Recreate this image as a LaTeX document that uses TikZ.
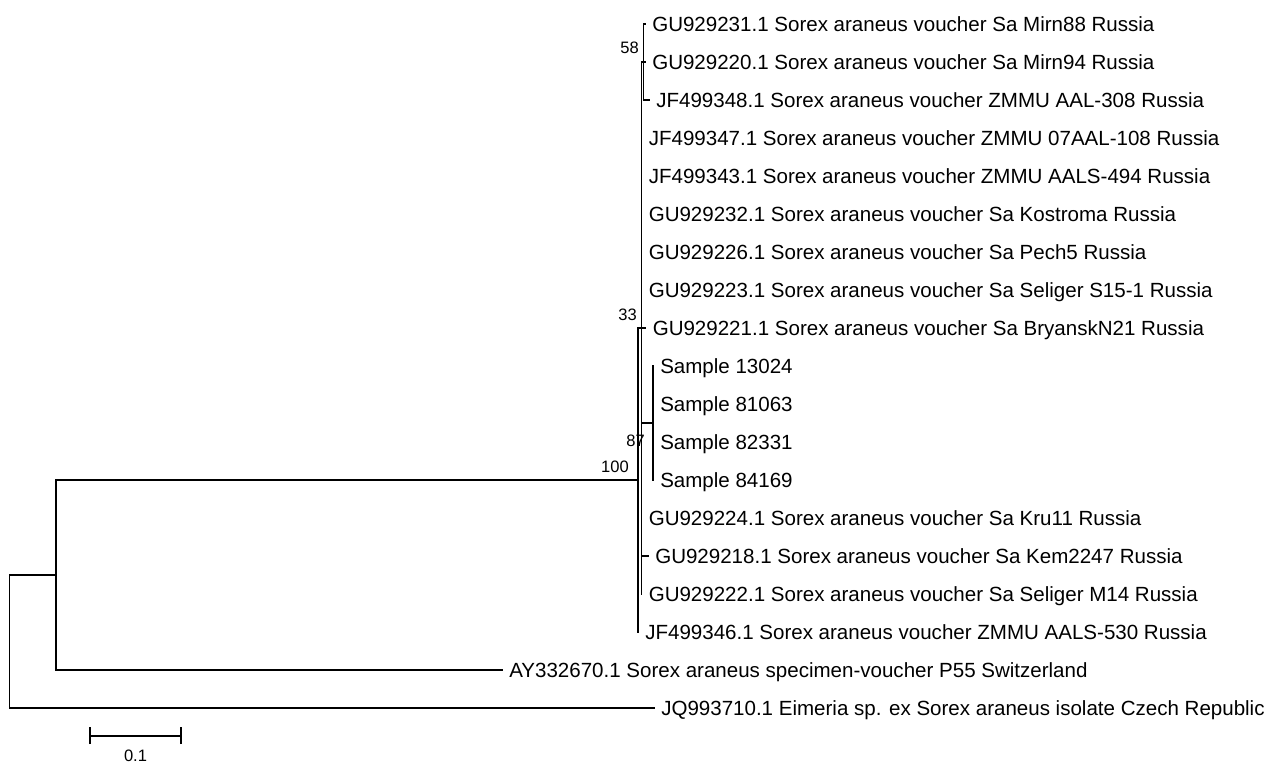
\documentclass[tikz,border=0pt]{standalone}
\usepackage{fontspec}
\setmainfont{Liberation Sans}
\begin{document}
\begin{tikzpicture}[x=0.75pt,y=-0.75pt,
  branch/.style={line width=1.2pt,black,line cap=rect},
  leaf/.style={anchor=base west,inner sep=0pt,font=\fontsize{15.4}{18}\selectfont},
  boot/.style={anchor=base east,inner sep=0pt,font=\fontsize{12.4}{14}\selectfont},
  scalelbl/.style={anchor=base,inner sep=0pt,font=\fontsize{12.4}{14}\selectfont}]
\useasboundingbox (0,0) rectangle (1276,764);
% internal nodes
\coordinate (root) at (9.3,641.2);
\coordinate (n57) at (55.7,574.7);
\coordinate (n100) at (638,479.7);
\coordinate (n33) at (641.5,327.7);
\coordinate (n58) at (643.5,61.7);
\coordinate (n87) at (653,422.7);
% leaf tips
\coordinate (t0) at (645,23.7);
\coordinate (t1) at (645,61.7);
\coordinate (t2) at (649,99.7);
\coordinate (t3) at (641.5,137.7);
\coordinate (t4) at (641.5,175.7);
\coordinate (t5) at (641.5,213.7);
\coordinate (t6) at (641.5,251.7);
\coordinate (t7) at (641.5,289.7);
\coordinate (t8) at (645.5,327.7);
\coordinate (t9) at (653,365.7);
\coordinate (t10) at (653,403.7);
\coordinate (t11) at (653,441.7);
\coordinate (t12) at (653,479.7);
\coordinate (t13) at (641.5,517.7);
\coordinate (t14) at (648,555.7);
\coordinate (t15) at (641.5,593.7);
\coordinate (t16) at (638,631.7);
\coordinate (t17) at (502,669.7);
\coordinate (t18) at (654,707.7);
% branches
\draw[branch] (root) |- (n57);
\draw[branch] (root) |- (t18);
\draw[branch] (n57) |- (n100);
\draw[branch] (n57) |- (t17);
\draw[branch] (n100) |- (n33);
\draw[branch] (n100) |- (t16);
\draw[branch] (n33) |- (n58);
\draw[branch] (n33) |- (t3);
\draw[branch] (n33) |- (t4);
\draw[branch] (n33) |- (t5);
\draw[branch] (n33) |- (t6);
\draw[branch] (n33) |- (t7);
\draw[branch] (n33) |- (t8);
\draw[branch] (n33) |- (n87);
\draw[branch] (n33) |- (t13);
\draw[branch] (n33) |- (t14);
\draw[branch] (n33) |- (t15);
\draw[branch] (n58) |- (t0);
\draw[branch] (n58) |- (t1);
\draw[branch] (n58) |- (t2);
\draw[branch] (n87) |- (t9);
\draw[branch] (n87) |- (t10);
\draw[branch] (n87) |- (t11);
\draw[branch] (n87) |- (t12);
% leaf labels
\node[leaf] (L0) at ([shift={(7,7.3)}]t0) {GU929231.1 Sorex araneus voucher Sa Mirn88 Russia};
\node[leaf] (L1) at ([shift={(7,7.3)}]t1) {GU929220.1 Sorex araneus voucher Sa Mirn94 Russia};
\node[leaf] (L2) at ([shift={(7,7.3)}]t2) {JF499348.1 Sorex araneus voucher ZMMU AAL-308 Russia};
\node[leaf] (L3) at ([shift={(7,7.3)}]t3) {JF499347.1 Sorex araneus voucher ZMMU 07AAL-108 Russia};
\node[leaf] (L4) at ([shift={(7,7.3)}]t4) {JF499343.1 Sorex araneus voucher ZMMU AALS-494 Russia};
\node[leaf] (L5) at ([shift={(7,7.3)}]t5) {GU929232.1 Sorex araneus voucher Sa Kostroma Russia};
\node[leaf] (L6) at ([shift={(7,7.3)}]t6) {GU929226.1 Sorex araneus voucher Sa Pech5 Russia};
\node[leaf] (L7) at ([shift={(7,7.3)}]t7) {GU929223.1 Sorex araneus voucher Sa Seliger S15-1 Russia};
\node[leaf] (L8) at ([shift={(7,7.3)}]t8) {GU929221.1 Sorex araneus voucher Sa BryanskN21 Russia};
\node[leaf] (L9) at ([shift={(7,7.3)}]t9) {Sample 13024};
\node[leaf] (L10) at ([shift={(7,7.3)}]t10) {Sample 81063};
\node[leaf] (L11) at ([shift={(7,7.3)}]t11) {Sample 82331};
\node[leaf] (L12) at ([shift={(7,7.3)}]t12) {Sample 84169};
\node[leaf] (L13) at ([shift={(7,7.3)}]t13) {GU929224.1 Sorex araneus voucher Sa Kru11 Russia};
\node[leaf] (L14) at ([shift={(7,7.3)}]t14) {GU929218.1 Sorex araneus voucher Sa Kem2247 Russia};
\node[leaf] (L15) at ([shift={(7,7.3)}]t15) {GU929222.1 Sorex araneus voucher Sa Seliger M14 Russia};
\node[leaf] (L16) at ([shift={(7,7.3)}]t16) {JF499346.1 Sorex araneus voucher ZMMU AALS-530 Russia};
\node[leaf] (L17) at ([shift={(7,7.3)}]t17) {AY332670.1 Sorex araneus specimen-voucher P55 Switzerland};
\node[leaf] (L18) at ([shift={(7,7.3)}]t18) {JQ993710.1 Eimeria sp. ex Sorex araneus isolate Czech Republic};
% bootstrap values
\node[boot] (b58) at (639,53) {58};
\node[boot] (b33) at (637,320) {33};
\node[boot] (b87) at (645,446) {87};
\node[boot] (b100) at (629,472) {100};
% scale bar
\coordinate (sL) at (90,736);
\coordinate (sR) at (181,736);
\draw[branch,line cap=butt] (sL) -- (sR);
\draw[branch,line cap=butt] ([yshift=-6]sL) -- ([yshift=7]sL);
\draw[branch,line cap=butt] ([yshift=-6]sR) -- ([yshift=7]sR);
\node[scalelbl] (sLbl) at (135.5,761) {0.1};
\end{tikzpicture}
\end{document}
